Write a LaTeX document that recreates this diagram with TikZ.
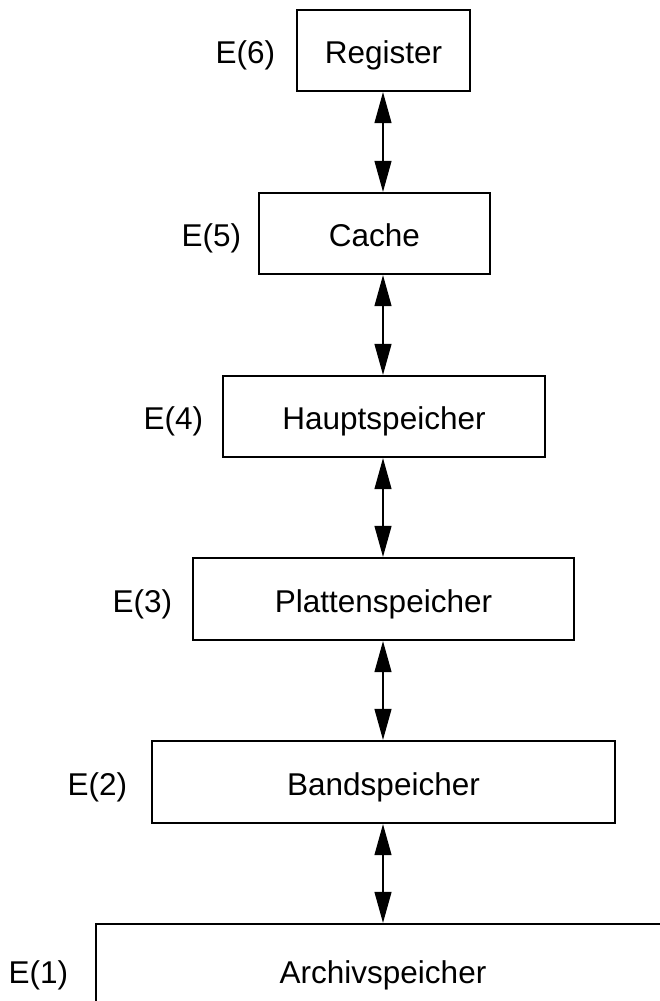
\documentclass[tikz,border=0pt]{standalone}
\usepackage{fontspec}
\setmainfont{Liberation Sans}
\usetikzlibrary{arrows.meta}
\tikzset{
  txt/.style={font=\fontsize{31.5}{36}\selectfont, text height=26.6pt, text depth=0pt},
  box/.style={txt, draw, line width=1.3pt, inner sep=0pt, minimum height=81pt},
  lbl/.style={txt, anchor=east, inner sep=0pt},
  arr/.style={line width=1.2pt, {Triangle[length=31pt,width=17pt]}-{Triangle[length=31pt,width=17pt]}, shorten <=0.5pt, shorten >=0.5pt}
}
\begin{document}
\begin{tikzpicture}[x=1pt,y=-1pt]
\useasboundingbox (0,0) rectangle (660,1001);
\coordinate (ax) at (383,0);
\node[box, minimum width=173pt] (reg) at (383.5,50.5) {Register};
\node[box, minimum width=231pt] (cache) at (374.5,233.5) {Cache};
\node[box, minimum width=322pt] (haupt) at (384,416.5) {Hauptspeicher};
\node[box, minimum width=381pt, minimum height=82pt] (platt) at (383.5,599) {Plattenspeicher};
\node[box, minimum width=463pt, minimum height=82pt] (band) at (383.5,782) {Bandspeicher};
\node[box, minimum width=574pt, minimum height=92pt] (arch) at (383,970) {Archivspeicher};

\node[lbl] (e6) at ([xshift=-21pt]reg.west) {E(6)};
\node[lbl] (e5) at ([xshift=-17pt]cache.west) {E(5)};
\node[lbl] (e4) at ([xshift=-19pt]haupt.west) {E(4)};
\node[lbl] (e3) at ([xshift=-20pt]platt.west) {E(3)};
\node[lbl] (e2) at ([xshift=-24pt]band.west) {E(2)};
\node[lbl] (e1) at ([xshift=-27pt]arch.west) {E(1)};

\draw[arr] (reg.south -| ax) -- (cache.north -| ax);
\draw[arr] (cache.south -| ax) -- (haupt.north -| ax);
\draw[arr] (haupt.south -| ax) -- (platt.north -| ax);
\draw[arr] (platt.south -| ax) -- (band.north -| ax);
\draw[arr] (band.south -| ax) -- (arch.north -| ax);
\end{tikzpicture}
\end{document}
